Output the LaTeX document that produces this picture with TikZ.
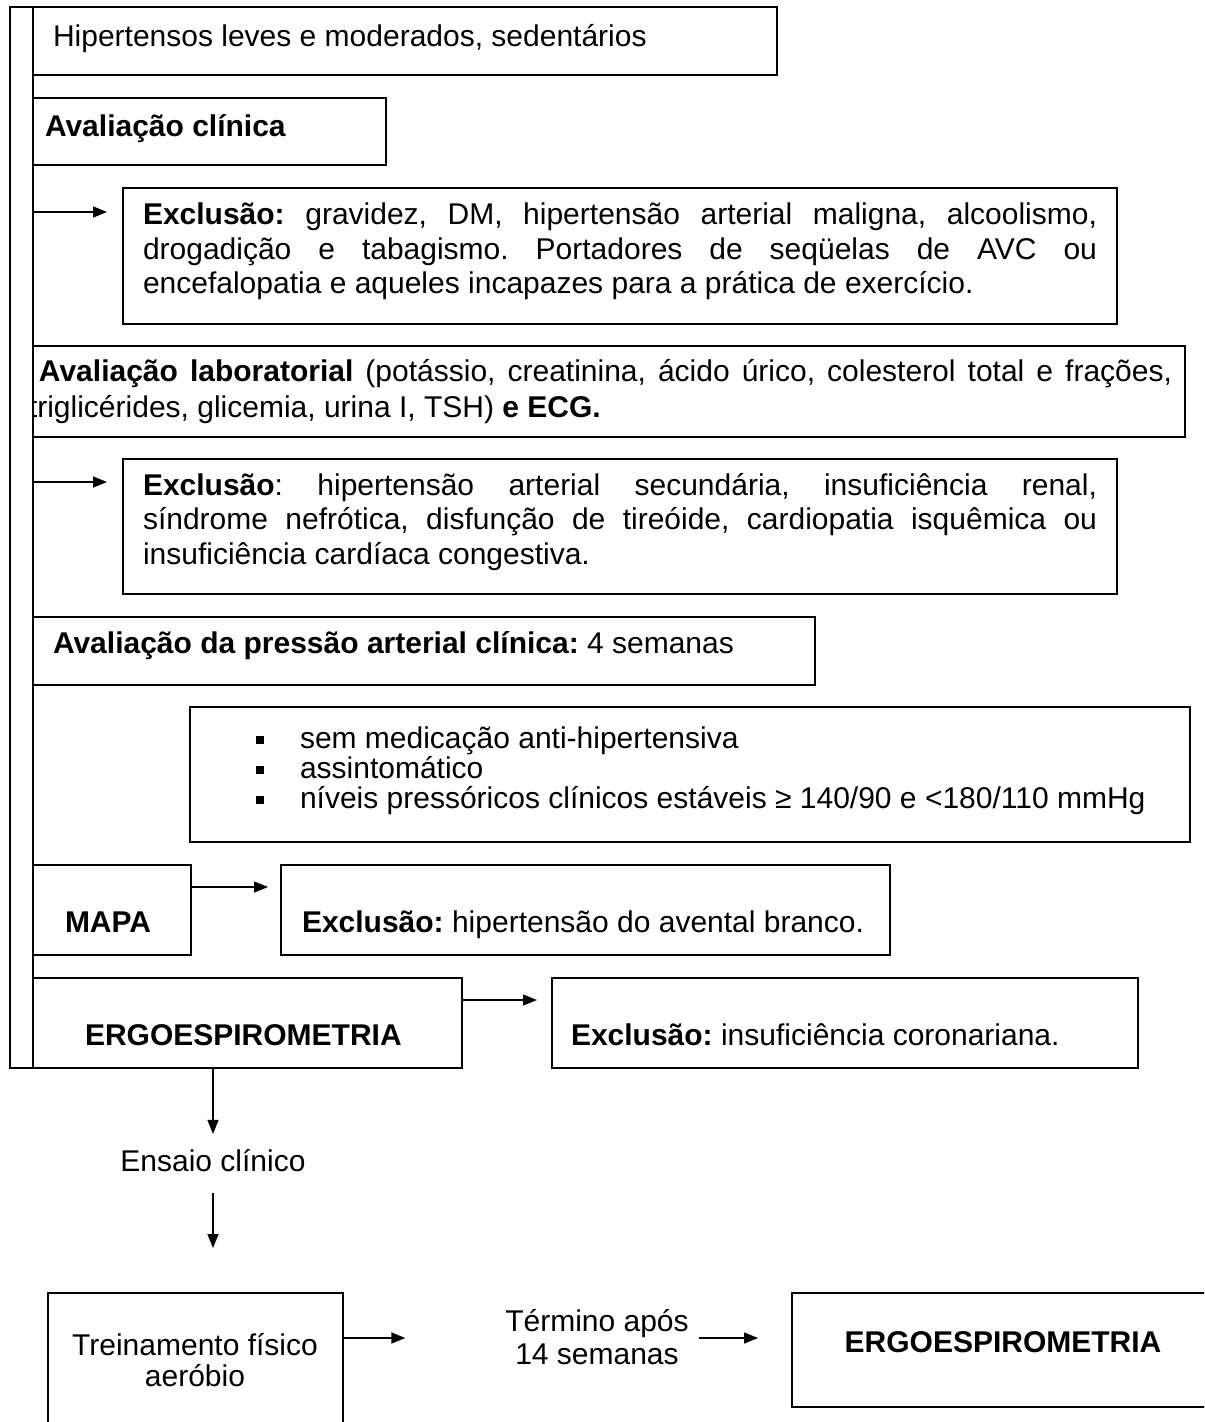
\documentclass[tikz,border=0pt]{standalone}
\usepackage{fontspec}
\setmainfont{Liberation Sans}
\usetikzlibrary{arrows.meta,fit}
\newcommand{\jl}[2]{\makebox[#1][s]{#2}}
\begin{document}
\frenchspacing
\begin{tikzpicture}[x=0.5pt,y=-0.5pt,
  every node/.style={inner sep=0pt,outer sep=0pt,font=\fontsize{15}{17.25}\selectfont},
  box/.style={draw,line width=0.75pt,inner sep=0pt,outer sep=0pt},
  txt/.style={anchor=base west},
  ctxt/.style={anchor=base},
  arr/.style={line width=0.75pt,-{Triangle[length=7pt,width=5.5pt]}},
  ]
\useasboundingbox (0,0) rectangle (1204,1422);
\clip (0,0) rectangle (1204,1422);

% boxes
\node[box,fit={(10,7) (33,1068)}] (bar) {};
\node[box,fit={(33,7) (777,75)}] (b1) {};
\node[box,fit={(33,98) (386,165)}] (b2) {};
\node[box,fit={(123,188) (1117,324)}] (e1) {};
\node[box,fit={(33,346) (1185,437)}] (lab) {};
\node[box,fit={(123,459) (1117,594)}] (e2) {};
\node[box,fit={(33,617) (815,685)}] (pr) {};
\node[box,fit={(190,707) (1190,842)}] (bl) {};
\node[box,fit={(33,865) (191,955)}] (mapa) {};
\node[box,fit={(281,865) (890,955)}] (emapa) {};
\node[box,fit={(33,978) (462,1068)}] (ergo) {};
\node[box,fit={(552,978) (1138,1068)}] (einsuf) {};
\node[box,fit={(48,1293) (343,1440)}] (treino) {};
\node[box,fit={(792,1293) (1220,1407)}] (ergob) {};

% texts
\node[txt] (t1) at (53,47) {Hipertensos leves e moderados, sedentários};
\node[txt] (t2) at (45,137) {\textbf{Avaliação clínica}};

\node[txt] (e1a) at (143,225) {\jl{477pt}{\textbf{Exclusão:} gravidez, DM, hipertensão arterial maligna, alcoolismo,}};
\node[txt] (e1b) at (143,259.5) {\jl{477pt}{drogadição e tabagismo. Portadores de seqüelas de AVC ou}};
\node[txt] (e1c) at (143,294) {encefalopatia e aqueles incapazes para a prática de exercício.};

\begin{scope}
\clip (33,346) rectangle (1185,437);
\node[txt] (la) at (39,382) {\jl{566.5pt}{\textbf{Avaliação laboratorial} (potássio, creatinina, ácido úrico, colesterol total e frações,}};
\node[txt] (lb) at (29,417) {triglicérides, glicemia, urina I, TSH) \textbf{e ECG.}};
\end{scope}

\node[txt] (e2a) at (143,495) {\jl{477pt}{\textbf{Exclusão}: hipertensão arterial secundária, insuficiência renal,}};
\node[txt] (e2b) at (143,529.5) {\jl{477pt}{síndrome nefrótica, disfunção de tireóide, cardiopatia isquêmica ou}};
\node[txt] (e2c) at (143,564) {insuficiência cardíaca congestiva.};

\node[txt] (p1) at (53,653) {\textbf{Avaliação da pressão arterial clínica:} 4 semanas};

\fill (256,736) rectangle (264,744);
\fill (256,766) rectangle (264,774);
\fill (256,796) rectangle (264,804);
\node[txt] (c1) at (300,748) {sem medicação anti-hipertensiva};
\node[txt] (c2) at (300,778) {assintomático};
\node[txt] (c3) at (300,808) {níveis pressóricos clínicos estáveis ≥ 140/90 e <180/110 mmHg};

\node[txt] (mt) at (65,932) {\textbf{MAPA}};
\node[txt] (mx) at (302,932) {\textbf{Exclusão:} hipertensão do avental branco.};
\node[txt] (gt) at (85,1045) {\textbf{ERGOESPIROMETRIA}};
\node[txt] (gx) at (571,1045) {\textbf{Exclusão:} insuficiência coronariana.};

\node[ctxt] (ens) at (213,1171) {Ensaio clínico};
\node[ctxt] (tr1) at (195,1355) {Treinamento físico};
\node[ctxt] (tr2) at (195,1386) {aeróbio};
\node[ctxt] (tm1) at (597,1331) {Término após};
\node[ctxt] (tm2) at (597,1364) {14 semanas};
\node[fit=(tm1)(tm2),inner sep=0pt] (term) {};
\node[ctxt] (g2) at (1003,1352) {\textbf{ERGOESPIROMETRIA}};

% connectors
\draw[arr,shorten >=8pt] (bar.east |- 0,212) -- (e1.west |- 0,212);
\draw[arr,shorten >=8pt] (bar.east |- 0,482) -- (e2.west |- 0,482);
\draw[arr,shorten >=6.5pt] (mapa.east |- 0,887) -- (emapa.west |- 0,887);
\draw[arr,shorten >=7.5pt] (ergo.east |- 0,1000) -- (einsuf.west |- 0,1000);
\draw[arr,shorten >=7.5pt] (ens.north |- ergo.south) -- (ens.north);
\draw[arr,shorten <=11pt,shorten >=22.5pt] (ens.south) -- (ens.south |- treino.north);
\draw[arr,shorten >=50pt] (treino.east |- 0,1338) -- (term.west |- 0,1338);
\draw[arr,shorten <=5pt,shorten >=17pt] (term.east |- 0,1338) -- (ergob.west |- 0,1338);
\end{tikzpicture}
\end{document}
